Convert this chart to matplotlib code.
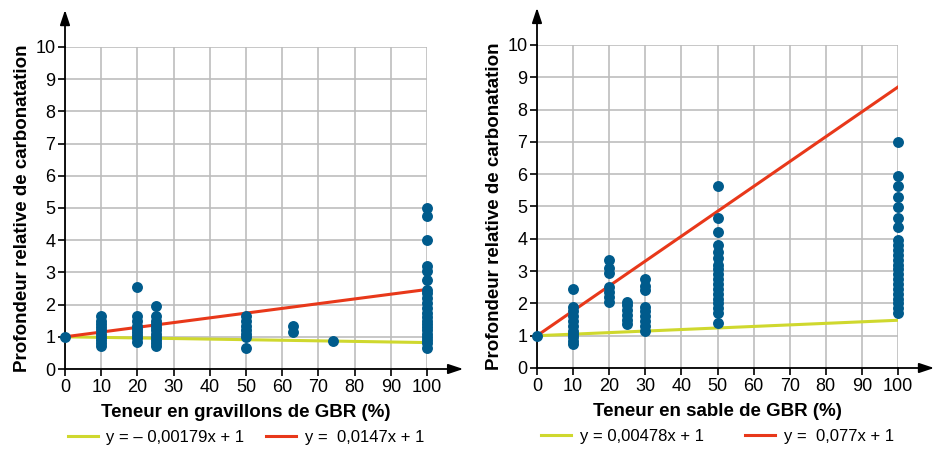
import matplotlib.pyplot as plt

plt.rcParams['font.family'] = ['Liberation Sans', 'DejaVu Sans']

# --- data: left panel (gravillons) ---
grav_x = [0] + [10] * 10 + [20] * 9 + [25] * 11 + [50] * 7 + [63] * 2 + [74] + [100] * 22
grav_y = [1.0,
          0.7, 0.8, 0.9, 1.0, 1.1, 1.2, 1.3, 1.4, 1.5, 1.65,
          0.85, 0.95, 1.05, 1.15, 1.25, 1.35, 1.5, 1.65, 2.55,
          0.7, 0.8, 0.9, 1.0, 1.1, 1.2, 1.3, 1.4, 1.5, 1.65, 1.95,
          0.65, 1.0, 1.1, 1.2, 1.35, 1.5, 1.65,
          1.15, 1.35,
          0.88,
          0.65, 0.8, 0.9, 1.0, 1.1, 1.2, 1.3, 1.4, 1.5, 1.6, 1.75, 1.9, 2.05,
          2.2, 2.35, 2.45, 2.75, 3.05, 3.2, 4.0, 4.75, 5.0]

# --- data: right panel (sable) ---
sable_x = [0] + [10] * 11 + [20] * 7 + [25] * 6 + [30] * 9 + [50] * 18 + [100] * 23
sable_y = [1.0,
           0.75, 0.85, 0.95, 1.05, 1.15, 1.3, 1.45, 1.6, 1.75, 1.88, 2.45,
           2.05, 2.2, 2.35, 2.5, 2.95, 3.1, 3.35,
           1.35, 1.5, 1.65, 1.8, 1.95, 2.05,
           1.15, 1.3, 1.45, 1.6, 1.75, 1.9, 2.4, 2.55, 2.75,
           1.38, 1.7, 1.85, 2.0, 2.15, 2.3, 2.45, 2.6, 2.75, 2.9, 3.05, 3.2,
           3.4, 3.6, 3.8, 4.2, 4.65, 5.65,
           1.7, 1.85, 2.0, 2.15, 2.3, 2.45, 2.6, 2.75, 2.9, 3.05, 3.2, 3.35,
           3.5, 3.65, 3.8, 3.95, 4.35, 4.65, 4.97, 5.3, 5.63, 5.95, 7.0]

# regression lines (slope, label)
grav_fits = [(-0.00179, 'y = – 0,00179x + 1'), (0.0147, 'y =  0,0147x + 1')]
sable_fits = [(0.00478, 'y = 0,00478x + 1'), (0.077, 'y =  0,077x + 1')]

line_x = [0, 100]
xticks = list(range(0, 101, 10))
yticks = list(range(0, 11))

DOT = '#005b8c'
FIT_COLORS = ['#cfd82e', '#e8381a']

fig = plt.figure(figsize=(9.38, 4.49), dpi=100)
ax1 = fig.add_axes([65 / 938, 80 / 449, 362 / 938, 322 / 449])
ax2 = fig.add_axes([537 / 938, 81 / 449, 361 / 938, 323 / 449])


def draw_panel(ax, xs, ys, fits, xlabel, col_spacing):
    ax.set_xlim(0, 100)
    ax.set_ylim(0, 10)
    ax.set_xticks(xticks)
    ax.set_yticks(yticks)
    ax.grid(True, color='#bdbdbd', linewidth=1.2)
    ax.set_axisbelow(True)
    for s in ['top', 'right']:
        ax.spines[s].set_visible(False)
    for s in ['left', 'bottom']:
        ax.spines[s].set_linewidth(1.3)
    ax.tick_params(labelsize=13, length=5, width=1.2, pad=2)

    for (slope, label), c in zip(fits, FIT_COLORS):
        ax.plot(line_x, [1 + slope * x for x in line_x], color=c, lw=2.2,
                label=label, zorder=2)
    ax.scatter(xs, ys, s=62, color=DOT, zorder=3, clip_on=False, linewidths=0)

    # axis arrows
    ax.annotate('', xy=(110, 0), xytext=(100, 0), annotation_clip=False,
                arrowprops=dict(arrowstyle='-|>,head_length=0.9,head_width=0.3',
                                color='black', lw=1.3, shrinkA=0, shrinkB=0))
    ax.annotate('', xy=(0, 11.15), xytext=(0, 10), annotation_clip=False,
                arrowprops=dict(arrowstyle='-|>,head_length=0.9,head_width=0.3',
                                color='black', lw=1.3, shrinkA=0, shrinkB=0))

    ax.set_xlabel(xlabel, fontsize=13.5, fontweight='bold', labelpad=6)
    ax.set_ylabel('Profondeur relative de carbonatation', fontsize=13.5,
                  fontweight='bold', labelpad=3)
    ax.legend(loc='upper center', bbox_to_anchor=(0.5, -0.158), ncol=2,
              frameon=False, fontsize=12, handlelength=1.8,
              handletextpad=0.5, columnspacing=col_spacing,
              borderpad=0.1)


draw_panel(ax1, grav_x, grav_y, grav_fits, 'Teneur en gravillons de GBR (%)', 1.3)
draw_panel(ax2, sable_x, sable_y, sable_fits, 'Teneur en sable de GBR (%)', 2.5)

fig.savefig('out.png', dpi=100)
